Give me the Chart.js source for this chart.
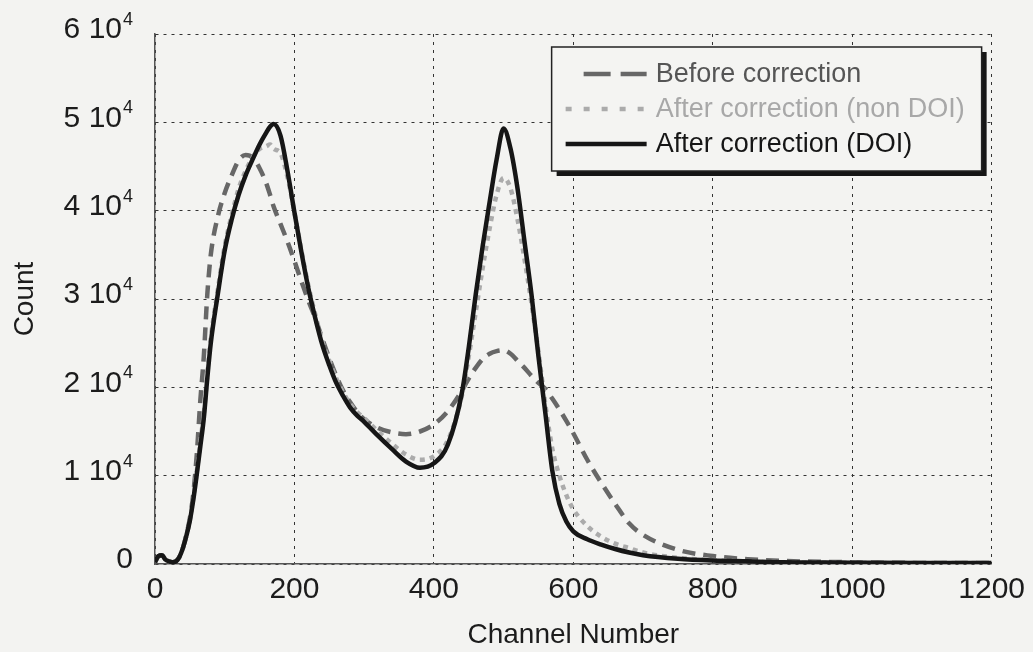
<!DOCTYPE html>
<html>
<head>
<meta charset="utf-8">
<script src="https://cdn.jsdelivr.net/npm/chart.js@4.4.1/dist/chart.umd.min.js"></script>
<style>
    html, body { margin: 0; padding: 0; background: #f3f3f1; }
    #wrap { width: 1033px; height: 652px; }
</style>
</head>
<body>
<div id="wrap"><canvas id="chart-canvas" width="1033" height="652"></canvas></div>
<script>
// channel numbers (x)
const channels = [0, 5, 10, 15, 20, 25, 30, 35, 40, 45, 50, 55, 60, 65, 70, 75, 80,
    90, 100, 110, 120, 130, 140, 150, 160, 165, 170, 180, 190, 200, 210, 220, 230, 240, 250, 260, 270, 280, 290, 300,
    320, 340, 360, 380, 400, 420,
    440, 450, 460, 470, 480, 490, 500, 510, 520, 530, 540, 550, 560, 570, 580, 590, 600,
    620, 640, 660, 680, 700,
    750, 800, 850, 900, 1000, 1100, 1200];

// counts
const beforeCorrection = [200, 900, 1000, 500, 300, 200, 300, 800, 1800, 3300, 5200, 8000, 12500, 18500, 23500, 30500, 35000,
    39300, 42000, 44000, 45700, 46300, 46000, 44800, 43000, 41800, 40500, 38500, 36500, 34300, 32000, 29800, 27800, 25500, 23300, 21300, 19600, 18300, 17200, 16400,
    15400, 14900, 14700, 15000, 15800, 17300,
    19600, 21000, 22200, 23200, 23800, 24100, 24200, 23800, 23000, 22200, 21300, 20500, 19800, 18700, 17500, 16200, 14800,
    11800, 9200, 6800, 4600, 3300,
    1600, 900, 550, 350, 200, 120, 100];

const afterNonDoi = [200, 900, 1000, 500, 300, 200, 300, 800, 1800, 3200, 5000, 7500, 10500, 13800, 17000, 21500, 25500,
    31000, 36000, 39500, 42500, 44500, 46000, 47000, 47300, 47500, 47000, 46500, 43800, 39800, 35500, 31500, 28200, 25200, 23000, 21000, 19400, 18100, 17200, 16500,
    15000, 13600, 12400, 11800, 12200, 14000,
    19000, 23500, 28500, 33500, 38000, 41800, 43700, 42500, 39000, 34500, 29500, 24000, 18000, 13000, 10000, 7800, 6200,
    4300, 3100, 2300, 1800, 1300,
    700, 450, 300, 200, 150, 100, 100];

const afterDoi = [200, 900, 1000, 500, 300, 200, 300, 800, 1800, 3200, 4900, 7300, 10200, 13300, 16500, 21000, 25000,
    30500, 35500, 39000, 41800, 44000, 45800, 47500, 48900, 49500, 49800, 48500, 44500, 39800, 35300, 31200, 27800, 24800, 22500, 20500, 19000, 17700, 16800, 16100,
    14500, 13000, 11600, 10900, 11400, 13500,
    19300, 24500, 30500, 36000, 41000, 45800, 49300, 47000, 42500, 36500, 30500, 23500, 17000, 10500, 6800, 4800, 3700,
    2800, 2200, 1700, 1300, 1000,
    600, 400, 300, 200, 150, 100, 100];

const seriesNames = ["Before correction", "After correction (non DOI)", "After correction (DOI)"];

const FONT = "'Liberation Sans', Arial, sans-serif";
const TEXT = "#1c1c1c";

function toPoints(values) {
    return channels.map((c, i) => ({ x: c, y: values[i] }));
}

// paper background
const paperPlugin = {
    id: "paper",
    beforeDraw(chart) {
        const ctx = chart.ctx;
        ctx.save();
        ctx.fillStyle = "#f3f3f1";
        ctx.fillRect(0, 0, chart.width, chart.height);
        ctx.restore();
    }
};

// y labels as "N 10^4" with a raised exponent
const powerLabelsPlugin = {
    id: "powerLabels",
    afterDraw(chart) {
        const ctx = chart.ctx;
        const scale = chart.scales.y;
        const right = scale.right - 22;
        ctx.save();
        ctx.fillStyle = TEXT;
        ctx.textBaseline = "middle";
        scale.ticks.forEach((t) => {
            const py = scale.getPixelForValue(t.value) - 4;
            if (t.value === 0) {
                ctx.font = "30px " + FONT;
                ctx.textAlign = "right";
                ctx.fillText("0", right, py);
                return;
            }
            ctx.font = "30px " + FONT;
            ctx.textAlign = "right";
            ctx.fillText((t.value / 10000) + " 10", right - 11, py);
            ctx.font = "18px " + FONT;
            ctx.textAlign = "left";
            ctx.fillText("4", right - 10, py - 10);
        });
        ctx.restore();
    }
};

// boxed legend with a drop shadow
const boxLegendPlugin = {
    id: "boxLegend",
    afterDraw(chart) {
        const ctx = chart.ctx;
        const area = chart.chartArea;
        const x = area.right - 440;
        const y = area.top + 13;
        const w = 430;
        const h = 124;
        ctx.save();
        ctx.fillStyle = "#151515";
        ctx.fillRect(x + 5, y + 5, w, h);
        ctx.fillStyle = "#f4f4f2";
        ctx.fillRect(x, y, w, h);
        ctx.strokeStyle = "#222";
        ctx.lineWidth = 1.5;
        ctx.strokeRect(x, y, w, h);

        ctx.font = "27px " + FONT;
        ctx.textBaseline = "middle";
        chart.data.datasets.forEach((ds, i) => {
            const ly = y + 27 + i * 35;
            ctx.beginPath();
            ctx.setLineDash(ds.legendDash || []);
            ctx.strokeStyle = ds.borderColor;
            ctx.lineWidth = ds.borderWidth;
            ctx.moveTo(x + ds.legendStart, ly);
            ctx.lineTo(x + 95, ly);
            ctx.stroke();
            ctx.setLineDash([]);
            ctx.fillStyle = ds.legendTextColor;
            ctx.fillText(ds.label, x + 104, ly + 1);
        });
        ctx.restore();
    }
};

document.addEventListener("DOMContentLoaded", function() {
    const theChart = document.getElementById("chart-canvas").getContext("2d");

    new Chart(theChart, {
        type: "line",
        data: {
            datasets: [{
                label: seriesNames[0],
                data: toPoints(beforeCorrection),
                borderColor: "#676767",
                legendTextColor: "#555",
                borderWidth: 4.5,
                borderDash: [13, 8],
                legendDash: [27, 10],
                legendStart: 32,
                order: 2
            }, {
                label: seriesNames[1],
                data: toPoints(afterNonDoi),
                borderColor: "#ababab",
                legendTextColor: "#a8a8a8",
                borderWidth: 4.5,
                borderDash: [5, 5],
                legendDash: [6, 12],
                legendStart: 14,
                order: 1
            }, {
                label: seriesNames[2],
                data: toPoints(afterDoi),
                borderColor: "#161616",
                legendTextColor: "#161616",
                borderWidth: 4.5,
                legendStart: 14,
                order: 0
            }]
        },
        options: {
            responsive: false,
            animation: false,
            elements: {
                point: { radius: 0 },
                line: { cubicInterpolationMode: "monotone" }
            },
            layout: { padding: { top: 34, right: 40, left: 0, bottom: 0 } },
            plugins: {
                legend: { display: false },
                tooltip: { enabled: false }
            },
            scales: {
                x: {
                    type: "linear",
                    min: 0,
                    max: 1200,
                    afterFit: (scale) => { scale.height = 88; },
                    ticks: {
                        stepSize: 200,
                        color: TEXT,
                        padding: 8,
                        font: { family: FONT, size: 30 },
                        maxRotation: 0,
                        callback: (v) => String(v)
                    },
                    grid: { color: "#333", lineWidth: 1, drawTicks: false },
                    border: { display: true, color: "#555", width: 1.5, dash: [3, 5] },
                    title: {
                        display: true,
                        text: "Channel Number",
                        color: TEXT,
                        font: { family: FONT, size: 28 },
                        padding: { top: 0, bottom: 0 }
                    }
                },
                y: {
                    min: 0,
                    max: 60000,
                    afterFit: (scale) => { scale.width = 155; },
                    ticks: {
                        stepSize: 10000,
                        display: false
                    },
                    grid: { color: "#333", lineWidth: 1, drawTicks: false },
                    border: { display: true, color: "#555", width: 1.5, dash: [3, 5] },
                    title: {
                        display: true,
                        text: "Count",
                        color: TEXT,
                        font: { family: FONT, size: 28 },
                        padding: { top: 8, bottom: 0 }
                    }
                }
            }
        },
        plugins: [paperPlugin, powerLabelsPlugin, boxLegendPlugin]
    });
});
</script>
</body>
</html>
